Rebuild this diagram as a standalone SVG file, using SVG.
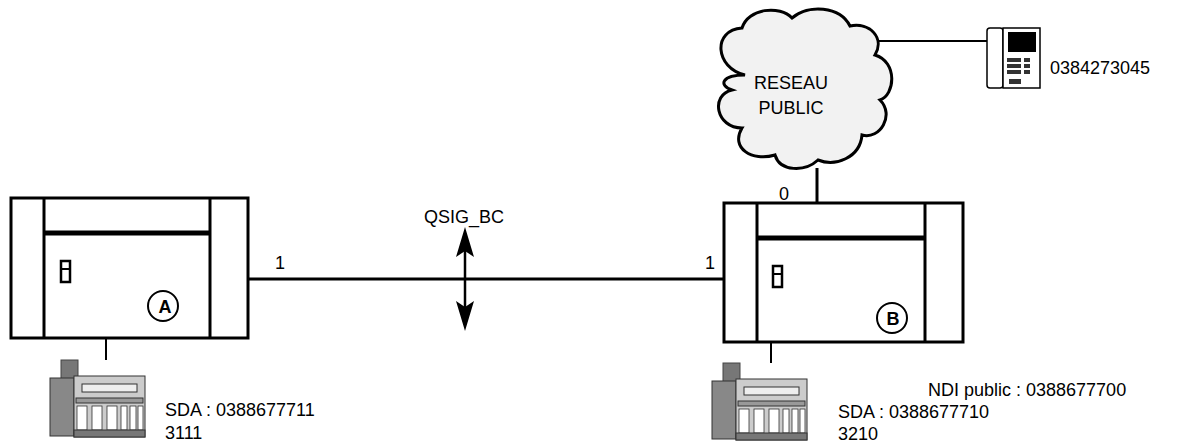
<svg xmlns="http://www.w3.org/2000/svg" width="1182" height="445" viewBox="0 0 1182 445">
<defs>
<style>
.t{font-family:"Liberation Sans",Arial,sans-serif;font-size:18px;fill:#000}
.ln{stroke:#000;fill:none}
.bx{stroke:#000;fill:#fff}
</style>
<g id="phoneS">
<rect x="0" y="0" width="95" height="77" fill="#fff"/>
<rect x="11" y="0" width="17" height="20" fill="#777" stroke="#444"/>
<rect x="0" y="18" width="24" height="58" fill="#888" stroke="#333"/>
<rect x="24" y="16" width="71" height="61" fill="#ccc" stroke="#333"/>
<rect x="32" y="24" width="55" height="8" fill="#eee" stroke="#333"/>
<rect x="26" y="38" width="67" height="5" fill="#999" stroke="#333"/>
<g fill="#fff" stroke="#333" stroke-width="0.8">
<rect x="27" y="46" width="10" height="24"/><rect x="42" y="46" width="10" height="24"/><rect x="57" y="46" width="10" height="24"/>
<rect x="71" y="46" width="6" height="24"/><rect x="80" y="46" width="6" height="24"/><rect x="88" y="46" width="5" height="24"/>
</g>
<rect x="24" y="70" width="71" height="7" fill="#777" stroke="#333"/>
</g>
</defs>
<rect width="1182" height="445" fill="#fff"/>
<g id="connectors">
<line class="ln" x1="248" y1="279" x2="724" y2="279" stroke-width="3"/>
<line class="ln" x1="465" y1="245" x2="465" y2="315" stroke-width="2.5"/>
<polygon points="465,227 474,257 465,251 456,257" fill="#000"/>
<polygon points="465,331 474,301 465,307 456,301" fill="#000"/>
<line class="ln" x1="106" y1="338" x2="106" y2="375" stroke-width="2"/>
<line class="ln" x1="771" y1="342" x2="771" y2="378" stroke-width="2"/>
<line class="ln" x1="817" y1="168" x2="817" y2="203" stroke-width="3"/>
<line class="ln" x1="865" y1="41" x2="987" y2="41" stroke-width="2"/>
</g>
<g id="labels">
<text class="t" x="424" y="223">QSIG_BC</text>
<text class="t" x="275" y="269">1</text>
<text class="t" x="705" y="269">1</text>
<text class="t" x="779" y="200">0</text>
</g>
<g id="nodeA">
<rect class="bx" x="11" y="198" width="237" height="140" stroke-width="3"/>
<line class="ln" x1="44" y1="198" x2="44" y2="338" stroke-width="3"/>
<line class="ln" x1="210" y1="198" x2="210" y2="338" stroke-width="3"/>
<line class="ln" x1="44" y1="233" x2="210" y2="233" stroke-width="5"/>
<rect x="61" y="261" width="9" height="21" fill="#fff" stroke="#000" stroke-width="2.5"/>
<line x1="61" y1="269" x2="70" y2="269" stroke="#000" stroke-width="2"/>
<circle cx="163" cy="306" r="15" fill="none" stroke="#000" stroke-width="2"/>
<text class="t" x="165" y="313" text-anchor="middle" font-weight="bold">A</text>
</g>
<g id="nodeB">
<rect class="bx" x="724" y="203" width="239" height="139" stroke-width="3"/>
<line class="ln" x1="757" y1="203" x2="757" y2="342" stroke-width="3"/>
<line class="ln" x1="925" y1="203" x2="925" y2="342" stroke-width="3"/>
<line class="ln" x1="757" y1="238" x2="925" y2="238" stroke-width="5"/>
<rect x="773" y="266" width="9" height="21" fill="#fff" stroke="#000" stroke-width="2.5"/>
<line x1="773" y1="274" x2="782" y2="274" stroke="#000" stroke-width="2"/>
<circle cx="892" cy="318" r="15" fill="none" stroke="#000" stroke-width="2"/>
<text class="t" x="893" y="325" text-anchor="middle" font-weight="bold">B</text>
<text class="t" x="928" y="396">NDI public : 0388677700</text>
</g>
<g id="cloud">
<path d="M745,75 C715,68 712,30 742,28 C748,8 780,5 792,18 C808,4 840,6 850,26 C870,22 885,38 875,55 C898,62 895,95 880,100 C895,115 880,140 862,135 C860,158 835,167 818,160 C805,172 780,172 775,155 C752,162 730,148 742,128 C716,128 710,95 732,90 C718,85 722,75 745,75 Z" fill="#f2f2f2" stroke="#000" stroke-width="3"/>
<text class="t" x="791" y="89" text-anchor="middle">RESEAU</text>
<text class="t" x="791" y="114" text-anchor="middle">PUBLIC</text>
</g>
<g id="phoneTop">
<rect x="987" y="28" width="16" height="60" rx="3" fill="#fff" stroke="#000" stroke-width="1.5"/>
<rect x="1003" y="28" width="37" height="60" fill="#fff" stroke="#000" stroke-width="1.5"/>
<rect x="1008" y="32" width="28" height="20" fill="#000"/>
<g fill="#333"><rect x="1007" y="58" width="14" height="4"/><rect x="1007" y="64" width="14" height="4"/><rect x="1007" y="70" width="14" height="4"/><rect x="1024" y="58" width="6" height="4"/><rect x="1024" y="64" width="6" height="4"/><rect x="1024" y="70" width="6" height="4"/><rect x="1009" y="79" width="12" height="5"/></g>
<text class="t" x="1050" y="74">0384273045</text>
</g>
<g id="phoneA">
<use href="#phoneS" x="50" y="360"/>
<text class="t" x="165" y="416">SDA : 0388677711</text>
<text class="t" x="165" y="439">3111</text>
</g>
<g id="phoneB">
<use href="#phoneS" x="712" y="363"/>
<text class="t" x="838" y="418">SDA : 0388677710</text>
<text class="t" x="838" y="440">3210</text>
</g>
</svg>
